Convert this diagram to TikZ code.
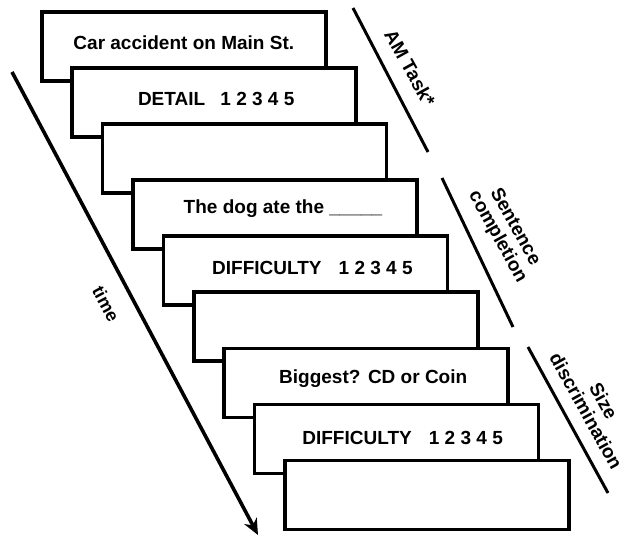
\documentclass[tikz,border=0pt]{standalone}
\usepackage{fontspec}
\setmainfont{Liberation Sans}
\usetikzlibrary{arrows.meta}
\tikzset{
  box/.style={draw=black, fill=white, line width=3.6pt, minimum width=284pt, minimum height=69pt, anchor=north west, inner sep=0pt},
  txt/.style={font=\fontsize{19}{22}\selectfont\bfseries, inner sep=0pt, anchor=center},
  sidelabel/.style={font=\fontsize{19}{20}\selectfont\bfseries, rotate=-61, align=center, inner sep=0pt},
  timelabel/.style={font=\fontsize{18}{20}\selectfont\bfseries, rotate=-62, inner sep=0pt},
  bar/.style={line width=3pt},
}
\begin{document}
\begin{tikzpicture}[x=1pt,y=-1pt]
\useasboundingbox (0,0) rectangle (624,537);
% boxes
\foreach \i/\nm in {0/r1,1/r2,2/r3,3/r4,4/r5,5/r6,6/r7,7/r8,8/r9}{
  \node[box] (\nm) at ({40+30.4*\i},{10+56.1*\i}) {};
}
\node[txt] (t1) at ([yshift=-33pt]r1.north) {Car accident on Main St.};
\node[txt] (t2) at ([yshift=-33pt,xshift=2pt]r2.north) {DETAIL\hspace{0.8em}1 2 3 4 5};
\node[txt] (t4) at ([yshift=-30pt,xshift=8pt]r4.north) {The dog ate the \_\_\_\_\_};
\node[txt] (t5) at ([yshift=-34pt,xshift=7pt]r5.north) {DIFFICULTY\hspace{0.9em}1 2 3 4 5};
\node[txt] (t7) at ([yshift=-32pt,xshift=7pt]r7.north) {Biggest?\hspace{0.4em}CD or Coin};
\node[txt] (t8) at ([yshift=-35pt,xshift=6pt]r8.north) {DIFFICULTY\hspace{0.9em}1 2 3 4 5};
% time arrow
\coordinate (ts) at (12,72);
\coordinate (te) at (258,535);
\draw[line width=3.6pt, -{Stealth[length=16pt,width=14pt,inset=5pt]}] (ts) -- (te);
\node[timelabel] (time) at (106,304) {time};
% side bars
\coordinate (a1) at (353,8);
\coordinate (a2) at (428,152);
\draw[bar] (a1) -- (a2);
\node[sidelabel] (am) at (410,68) {AM Task*};
\coordinate (s1) at (442,178);
\coordinate (s2) at (513,327);
\draw[bar] (s1) -- (s2);
\node[sidelabel] (sc) at (506,232) {Sentence\\completion};
\coordinate (z1) at (528,347);
\coordinate (z2) at (608,493);
\draw[bar] (z1) -- (z2);
\node[sidelabel] (sd) at (595,406) {Size\\discrimination};
\end{tikzpicture}
\end{document}
